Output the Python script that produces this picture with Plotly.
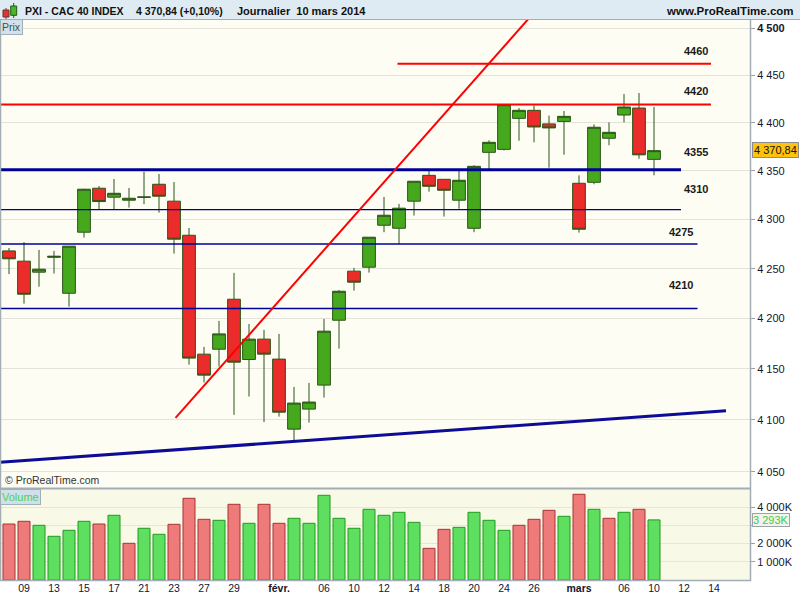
import math

import plotly.graph_objects as go

# sessions shown on the chart (the last six are empty future sessions)
days = [
    "08/01", "09/01", "10/01", "13/01", "14/01", "15/01", "16/01", "17/01",
    "20/01", "21/01", "22/01", "23/01", "24/01", "27/01", "28/01", "29/01",
    "30/01", "31/01", "03/02", "04/02", "05/02", "06/02", "07/02", "10/02",
    "11/02", "12/02", "13/02", "14/02", "17/02", "18/02", "19/02", "20/02",
    "21/02", "24/02", "25/02", "26/02", "27/02", "28/02", "03/03", "04/03",
    "05/03", "06/03", "07/03", "10/03",
    "11/03", "12/03", "13/03", "14/03", "17/03", "18/03",
]

opens = [
    4268.0, 4257.6, 4246.5, 4261.5, 4225.3, 4287.0, 4332.0, 4322.8, 4319.7, 4322.6,
    4336.1, 4318.7, 4283.9, 4164.6, 4169.5, 4219.3, 4159.3, 4179.5, 4159.7, 4091.1,
    4110.6, 4134.1, 4198.3, 4247.5, 4251.5, 4294.1, 4291.0, 4318.7, 4345.3, 4341.2,
    4319.7, 4291.0, 4369.1, 4372.2, 4404.5, 4412.9, 4398.7, 4401.3, 4337.1, 4338.1,
    4383.7, 4408.0, 4415.3, 4361.8,
]
highs = [
    4271.0, 4276.9, 4269.0, 4268.0, 4272.8, 4331.5, 4334.3, 4341.5, 4332.3, 4349.0,
    4346.7, 4338.4, 4291.3, 4171.8, 4197.6, 4245.8, 4194.6, 4188.7, 4184.7, 4132.3,
    4136.3, 4199.6, 4228.6, 4250.8, 4281.9, 4323.0, 4315.9, 4339.2, 4351.5, 4341.2,
    4351.5, 4355.7, 4381.6, 4419.5, 4415.3, 4418.1, 4407.4, 4412.2, 4345.3, 4398.2,
    4400.3, 4430.0, 4431.1, 4416.4,
]
lows = [
    4244.5, 4214.9, 4231.9, 4245.1, 4211.9, 4281.5, 4310.7, 4310.7, 4312.1, 4315.6,
    4307.0, 4265.3, 4154.3, 4136.7, 4152.4, 4105.0, 4122.9, 4097.9, 4103.3, 4079.7,
    4097.5, 4121.9, 4170.1, 4227.9, 4246.1, 4287.0, 4275.1, 4304.0, 4328.5, 4303.0,
    4311.0, 4287.0, 4351.5, 4371.0, 4381.2, 4379.5, 4353.2, 4366.6, 4286.6, 4336.1,
    4376.5, 4400.3, 4362.5, 4345.3,
]
closes = [
    4260.0, 4224.3, 4249.5, 4262.5, 4272.8, 4331.0, 4318.3, 4326.8, 4321.7, 4323.0,
    4323.8, 4279.9, 4160.7, 4143.9, 4184.7, 4156.7, 4179.5, 4164.6, 4107.6, 4116.5,
    4117.5, 4187.4, 4227.3, 4236.4, 4281.9, 4304.3, 4311.5, 4339.2, 4334.0, 4329.9,
    4340.2, 4354.6, 4379.5, 4418.8, 4412.9, 4395.5, 4394.5, 4406.6, 4290.0, 4395.2,
    4389.9, 4416.4, 4366.5, 4370.84,
]
prev_close = 4263.0  # close of the session before the first candle

# volume, thousands of shares
volumes = [
    3068, 3216, 2997, 2394, 2723, 3216, 3068, 3545, 2011, 2833,
    2504, 3051, 4476, 3326, 3271, 4147, 3106, 4147, 3106, 3380,
    3106, 4640, 3380, 2833, 3873, 3545, 3709, 3160, 1735, 2776,
    2886, 3709, 3271, 2723, 2997, 3326, 3819, 3490, 4696, 3873,
    3380, 3709, 3873, 3293,
]

tick_days = ["09/01", "13/01", "15/01", "17/01", "21/01", "23/01", "27/01", "29/01",
             "03/02", "06/02", "10/02", "12/02", "14/02", "18/02", "20/02", "24/02",
             "26/02", "03/03", "06/03", "10/03", "12/03", "14/03"]
tick_labels = ["09", "13", "15", "17", "21", "23", "27", "29", "<b>févr.</b>", "06",
               "10", "12", "14", "18", "20", "24", "26", "<b>mars</b>", "06", "10",
               "12", "14"]

price_ticks = [4050, 4100, 4150, 4200, 4250, 4300, 4350, 4400, 4450, 4500]
price_labels = ["4 050", "4 100", "4 150", "4 200", "4 250", "4 300", "4 350",
                "4 400", "4 450", "<b>4 500</b>"]
# the 3 000K label sits under the last-volume box
vol_ticks = [1000, 2000, 3000, 4000]
vol_labels = ["1 000K", "2 000K", "", "4 000K"]

# drawn support / resistance levels (price, first session idx, last session idx)
levels = [4462, 4419, 4351, 4310, 4275, 4210]
level_start = [25.9, -0.6, -0.6, -0.6, -0.6, -0.6]
level_end = [46.8, 46.8, 44.8, 44.8, 45.9, 45.9]
level_colors = ["#ff0000", "#ff0000", "#000099", "#000099", "#000099", "#000099"]
level_widths = [2, 2, 3, 1.3, 1.3, 1.3]
level_texts = ["4460", "4420", "4355", "4310", "4275", "4210"]

red_trend_x = [11.1, 35.9]
red_trend_y = [4102, 4533]
blue_trend_x = [-0.6, 47.8]
blue_trend_y = [4059, 4109]

FONT = "Liberation Sans, Arial, sans-serif"
TXT = "#15152e"
OUTLINE = "#2b5516"
FRAME = "#a3adb5"
W, H = 800, 600


def px(x):
    return x / W


def py(y):
    return 1 - y / H


x = list(range(len(closes)))
tickvals = [days.index(d) for d in tick_days]

vol_fill, vol_line = [], []
last = prev_close
for c in closes:
    if c >= last:
        vol_fill.append("#5fdf5f")
        vol_line.append("#1f9a1f")
    else:
        vol_fill.append("#ef7a7a")
        vol_line.append("#a83232")
    last = c

fig = go.Figure()

fig.add_trace(go.Candlestick(
    x=x, open=opens, high=highs, low=lows, close=closes,
    increasing=dict(line=dict(color=OUTLINE, width=1), fillcolor="#45a81d"),
    decreasing=dict(line=dict(color=OUTLINE, width=1), fillcolor="#ec2b2b"),
    whiskerwidth=0, hoverinfo="skip", showlegend=False,
    xaxis="x", yaxis="y",
))

fig.add_trace(go.Bar(
    x=x, y=volumes, width=0.8,
    marker=dict(color=vol_fill, line=dict(color=vol_line, width=1)),
    hoverinfo="skip", showlegend=False, xaxis="x", yaxis="y2",
))

for lv, x0, x1, col, lw in zip(levels, level_start, level_end, level_colors, level_widths):
    fig.add_trace(go.Scatter(
        x=[x0, x1], y=[lv, lv], mode="lines",
        line=dict(color=col, width=lw), hoverinfo="skip", showlegend=False,
        xaxis="x", yaxis="y",
    ))

fig.add_trace(go.Scatter(
    x=red_trend_x, y=red_trend_y, mode="lines",
    line=dict(color="#ff0000", width=2), hoverinfo="skip", showlegend=False,
    xaxis="x", yaxis="y",
))
fig.add_trace(go.Scatter(
    x=blue_trend_x, y=blue_trend_y, mode="lines",
    line=dict(color="#0c0c96", width=3), hoverinfo="skip", showlegend=False,
    xaxis="x", yaxis="y",
))

shapes = [
    # volume panel background
    dict(type="rect", xref="x domain", yref="y2 domain", x0=0, x1=1, y0=0, y1=1,
         fillcolor="#f9f9e7", line=dict(width=0), layer="below"),
    # header bar
    dict(type="rect", xref="paper", yref="paper", x0=0, x1=1, y0=py(19.5), y1=1,
         fillcolor="#dfebf3", line=dict(width=0)),
    dict(type="line", xref="paper", yref="paper", x0=0, x1=1, y0=py(19.5), y1=py(19.5),
         line=dict(color=FRAME, width=1)),
    # panel frames
    dict(type="line", xref="paper", yref="paper", x0=px(750.5), x1=px(750.5),
         y0=py(20), y1=py(581), line=dict(color=FRAME, width=1.5)),
    dict(type="line", xref="paper", yref="paper", x0=px(0.5), x1=px(0.5),
         y0=py(20), y1=py(581), line=dict(color=FRAME, width=1.5)),
    dict(type="line", xref="paper", yref="paper", x0=0, x1=px(751),
         y0=py(488.5), y1=py(488.5), line=dict(color=FRAME, width=2)),
    dict(type="line", xref="paper", yref="paper", x0=0, x1=px(751),
         y0=py(580.5), y1=py(580.5), line=dict(color=FRAME, width=1.5)),
    # small candle icon in the header
    dict(type="line", xref="paper", yref="paper", x0=px(6), x1=px(6), y0=py(8), y1=py(19),
         line=dict(color="#4a4a4a", width=1)),
    dict(type="rect", xref="paper", yref="paper", x0=px(3), x1=px(9), y0=py(17), y1=py(10),
         fillcolor="#e23232", line=dict(color="#6a3030", width=1)),
    dict(type="line", xref="paper", yref="paper", x0=px(13.7), x1=px(13.7), y0=py(3), y1=py(18),
         line=dict(color="#2b5516", width=1)),
    dict(type="rect", xref="paper", yref="paper", x0=px(10.7), x1=px(16.7), y0=py(15.3), y1=py(6),
         fillcolor="#44b82a", line=dict(color="#2b5516", width=1)),
]

annotations = [
    dict(text="<b>PXI - CAC 40 INDEX</b>", x=px(23), y=py(11), xanchor="left"),
    dict(text="<b>4 370,84 (+0,10%)</b>", x=px(134), y=py(11), xanchor="left"),
    dict(text="<b>Journalier  10 mars 2014</b>", x=px(235), y=py(11), xanchor="left",
         font=dict(size=11, color="#111", family=FONT)),
    dict(text="<b>www.ProRealTime.com</b>", x=px(796), y=py(11), xanchor="right",
         font=dict(size=11.5, color="#111", family=FONT)),
    dict(text="Prix", x=0, y=py(27), xanchor="left", bgcolor="#d3e2ea",
         bordercolor="#9fb0ba", borderwidth=1, borderpad=1,
         font=dict(size=10.5, color="#3d5252", family=FONT)),
    dict(text="Volume", x=0, y=py(496.5), xanchor="left", bgcolor="#cfe0e8",
         bordercolor="#9fb0ba", borderwidth=1, borderpad=1,
         font=dict(size=11, color="#4fd04f", family=FONT)),
    dict(text="© ProRealTime.com", x=px(3), y=py(480), xanchor="left",
         font=dict(size=10.5, color="#333333", family=FONT)),
    dict(text="4 370,84", x=px(775), y=py(150), xanchor="center", bgcolor="#ffc20e",
         bordercolor="#8c8c8c", borderwidth=1, borderpad=1,
         font=dict(size=11, color="#111", family=FONT)),
    dict(text="3 293K", x=px(770.5), y=py(519.5), xanchor="center", bgcolor="#f3f3ea",
         bordercolor="#9aa4aa", borderwidth=1, borderpad=0,
         font=dict(size=11, color="#44cc44", family=FONT)),
]
label_pos = [(696, 51), (696, 91), (696, 152), (696, 189), (681, 232), (681, 285)]
for t, (lx, ly) in zip(level_texts, label_pos):
    annotations.append(dict(text="<b>" + t + "</b>", x=px(lx), y=py(ly), xanchor="center",
                            font=dict(size=11, color="#1a1a1a", family=FONT)))

for a in annotations:
    a.setdefault("xref", "paper")
    a.setdefault("yref", "paper")
    a.setdefault("showarrow", False)
    a.setdefault("yanchor", "middle")
    a.setdefault("font", dict(size=10.5, color="#111", family=FONT))

fig.update_layout(
    width=W, height=H,
    margin=dict(l=0, r=0, t=0, b=0),
    paper_bgcolor="white",
    plot_bgcolor="#fdfdf4",
    showlegend=False,
    boxgap=0.15, boxgroupgap=0,
    font=dict(family=FONT, color=TXT),
    shapes=shapes,
    annotations=annotations,
    xaxis=dict(
        domain=[0, 750 / W], anchor="y2", range=[-0.6, 49.4],
        tickvals=tickvals, ticktext=tick_labels,
        showgrid=False, zeroline=False, showline=False, ticks="",
        tickfont=dict(size=10.5, color=TXT),
        rangeslider=dict(visible=False),
    ),
    yaxis=dict(
        domain=[py(488), py(20)], anchor="x", side="right", type="log",
        range=[math.log10(4034.3), math.log10(4508.6)],
        tickvals=price_ticks, ticktext=price_labels,
        gridcolor="#e3e3da", gridwidth=1, zeroline=False, showline=False,
        ticks="outside", ticklen=4, tickcolor="#9aa0a6",
        tickfont=dict(size=11, color=TXT),
    ),
    yaxis2=dict(
        domain=[py(580), py(489)], anchor="x", side="right",
        range=[0, 4986],
        tickvals=vol_ticks, ticktext=vol_labels,
        gridcolor="#e6e6d6", gridwidth=1, zeroline=False, showline=False,
        ticks="outside", ticklen=4, tickcolor="#9aa0a6",
        tickfont=dict(size=11, color=TXT),
    ),
)

# the page body has a default 8px margin; drop it so the figure fills the window
fig.write_html("out.html", config={"displayModeBar": False},
               post_script="document.body.style.margin='0';")
